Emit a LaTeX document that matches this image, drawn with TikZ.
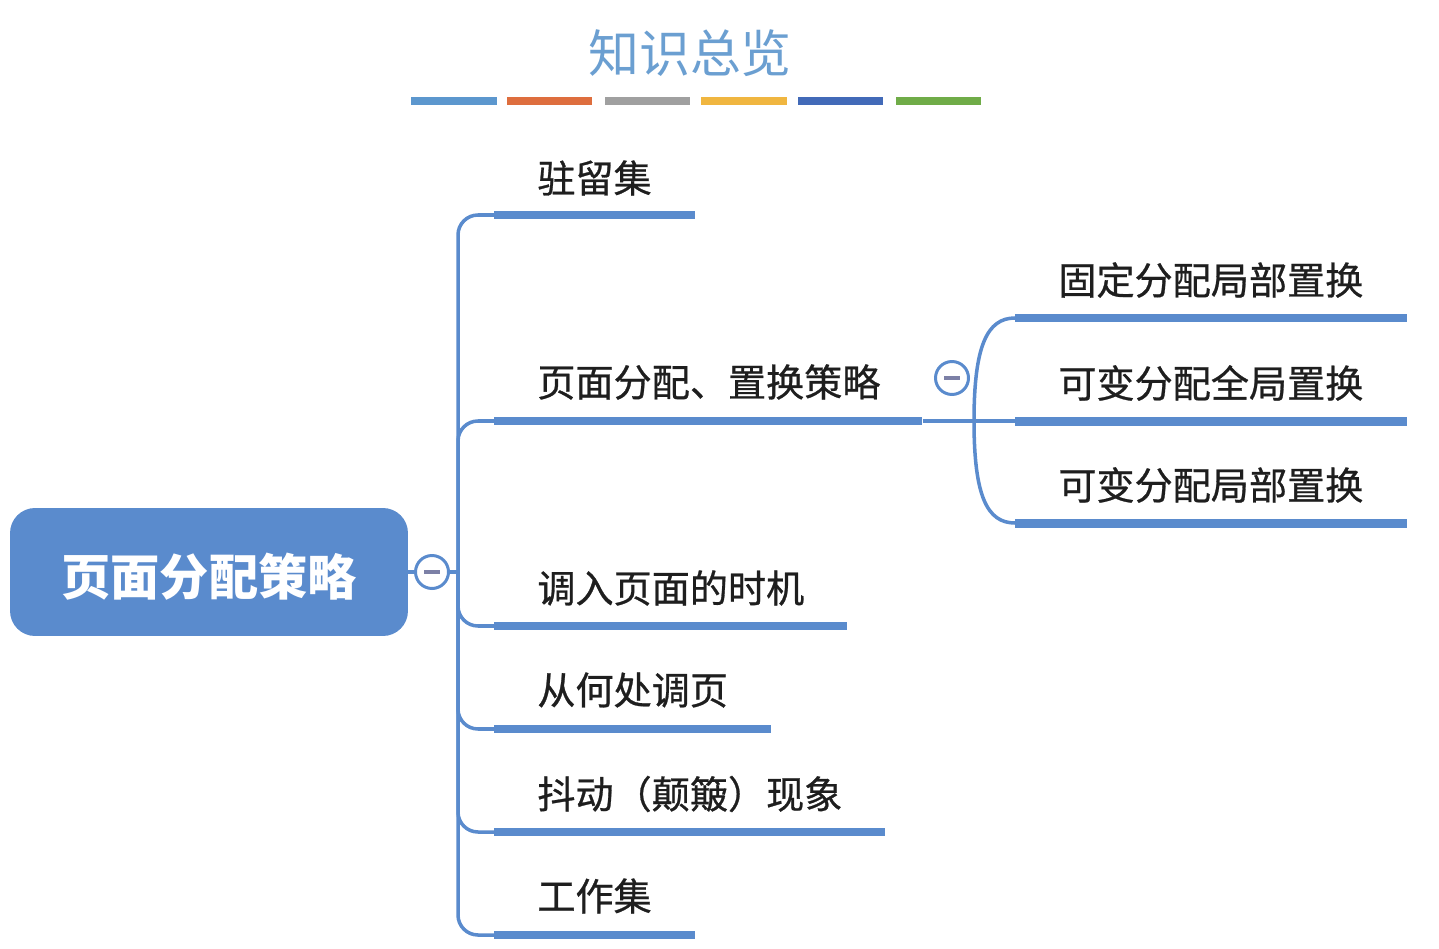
\documentclass[tikz,border=0pt]{standalone}
\usepackage{fontspec}
\newfontfamily\cjk{Noto Sans CJK SC}
\newfontfamily\cjkmed[FakeBold=0.7]{Noto Sans CJK SC}
\definecolor{mapblue}{HTML}{5A8BCD}
\definecolor{titleblue}{HTML}{6B9FD1}
\definecolor{foldgray}{HTML}{7C80A6}
\definecolor{txtdark}{HTML}{1E1E1E}
\begin{document}
\begin{tikzpicture}[
        x = 0.02cm,
        y = -0.02cm,
        link/.style = {draw=mapblue, line width=2pt},
        bar/.style = {fill=mapblue, inner sep=0pt, minimum height=0.16cm, anchor=west},
        lbl/.style = {font=\cjkmed\fontsize{21.7}{24}\selectfont, text=txtdark, anchor=west, inner sep=0pt},
        fold/.style = {circle, draw=mapblue, line width=1.7pt, fill=white, minimum size=0.66cm, inner sep=0pt},
        deco/.style = {line width=0.16cm}
    ]
        \useasboundingbox (0,0) rectangle (1439,949);
        % title
        \node[font=\cjk\fontsize{29}{32}\selectfont, text=titleblue] (title) at (690,53) {知识总览};
        \draw[deco, color={rgb,255:red,92;green,151;blue,206}] (411,101) -- (497,101);
        \draw[deco, color={rgb,255:red,222;green,110;blue,62}] (507,101) -- (592,101);
        \draw[deco, color={rgb,255:red,160;green,160;blue,160}] (605,101) -- (690,101);
        \draw[deco, color={rgb,255:red,240;green,182;blue,64}] (701,101) -- (787,101);
        \draw[deco, color={rgb,255:red,66;green,106;blue,184}] (798,101) -- (883,101);
        \draw[deco, color={rgb,255:red,112;green,172;blue,72}] (896,101) -- (981,101);

        % root
        \node[fill=mapblue, rounded corners=0.5cm, minimum width=7.96cm, minimum height=2.56cm] (root) at (209,572) {};
        \node[font=\cjk\bfseries\fontsize{28}{32}\selectfont, text=white] (roottext) at (209,577) {页面分配策略};
        \node[fold] (rootfold) at (432,572) {};
        \draw[foldgray, line width=1.8pt] ([xshift=-0.16cm]rootfold.center) -- ([xshift=0.16cm]rootfold.center);
        \coordinate (trunk) at (458,572);
        \draw[link] (root.east) -- (rootfold.west);
        \draw[link] (rootfold.east) -- (trunk);

        % branches
        \node[bar, minimum width=4.02cm] (barresid) at (494,215) {};
        \node[bar, minimum width=8.56cm] (barpolicy) at (494,421) {};
        \node[bar, minimum width=7.06cm] (barwhen) at (494,626) {};
        \node[bar, minimum width=5.54cm] (barwhere) at (494,729) {};
        \node[bar, minimum width=7.82cm] (barthrash) at (494,832) {};
        \node[bar, minimum width=4.02cm] (barwork) at (494,935) {};
        \node[lbl] (resid) at (537,178) {驻留集};
        \node[lbl] (policy) at (537,382) {页面分配、置换策略};
        \node[lbl] (when) at (537,588) {调入页面的时机};
        \node[lbl] (where) at (537,690) {从何处调页};
        \node[lbl] (thrash) at (537,794) {抖动（颠簸）现象};
        \node[lbl] (work) at (537,896) {工作集};
        \draw[link, rounded corners=0.4cm] (trunk) |- (barresid.west);
        \draw[link, rounded corners=0.4cm] (trunk) |- (barpolicy.west);
        \draw[link, rounded corners=0.4cm] (trunk) |- (barwhen.west);
        \draw[link, rounded corners=0.4cm] (trunk) |- (barwhere.west);
        \draw[link, rounded corners=0.4cm] (trunk) |- (barthrash.west);
        \draw[link, rounded corners=0.4cm] (trunk) |- (barwork.west);

        % sub branches of the policy
        \node[fold] (policyfold) at (952,378) {};
        \draw[foldgray, line width=1.8pt] ([xshift=-0.16cm]policyfold.center) -- ([xshift=0.16cm]policyfold.center);
        \node[bar, minimum width=7.84cm, minimum height=0.18cm] (barfixloc) at (1015,318) {};
        \node[bar, minimum width=7.84cm, minimum height=0.18cm] (barvarglob) at (1015,421) {};
        \node[bar, minimum width=7.84cm, minimum height=0.18cm] (barvarloc) at (1015,523) {};
        \node[lbl] (fixloc) at (1058,280) {固定分配局部置换};
        \node[lbl] (varglob) at (1058,383) {可变分配全局置换};
        \node[lbl] (varloc) at (1058,485) {可变分配局部置换};
        \coordinate (subtrunk) at (974,421);
        \draw[link] (barpolicy.east) -- (barvarglob.west);
        \draw[link] (subtrunk) .. controls +(0,-75) and +(-28,0) .. (barfixloc.west);
        \draw[link] (subtrunk) .. controls +(0,75) and +(-28,0) .. (barvarloc.west);
    \end{tikzpicture}
\end{document}
